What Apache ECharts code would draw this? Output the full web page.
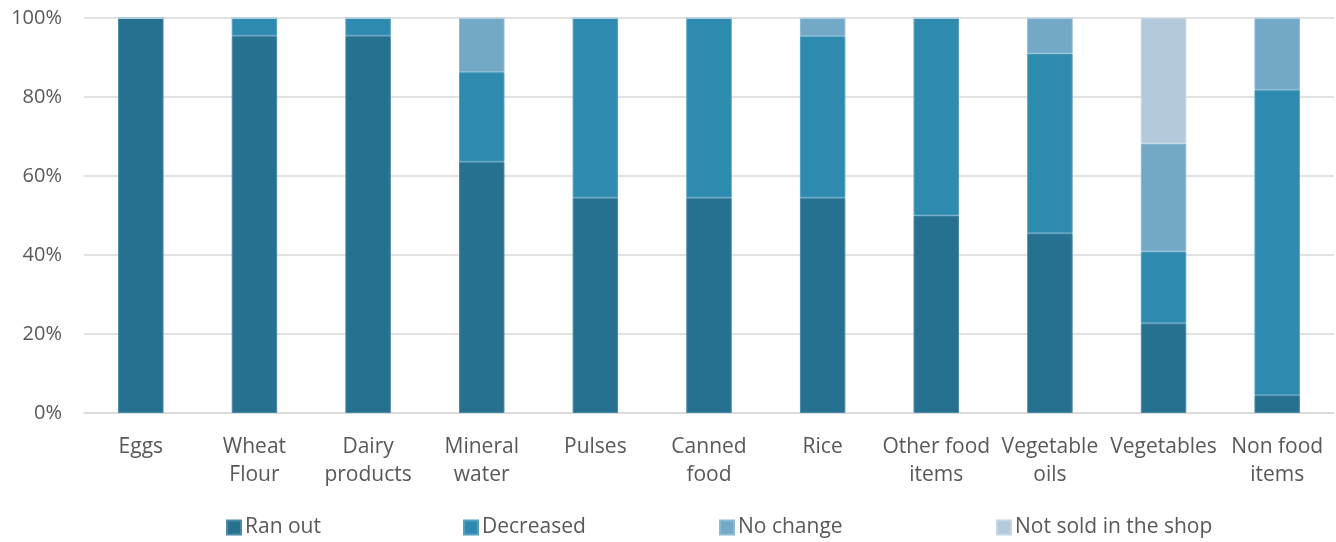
<!DOCTYPE html>
<html>
<head>
<meta charset="utf-8">
<script src="https://cdn.jsdelivr.net/npm/echarts@6/dist/echarts.min.js"></script>
<style>html,body{margin:0;padding:0;background:#fff}#c{width:1336px;height:542px}</style>
</head>
<body>
<div id="c"></div>
<script>
const categories = ['Eggs','Wheat\nFlour','Dairy\nproducts','Mineral\nwater','Pulses','Canned\nfood','Rice','Other food\nitems','Vegetable\noils','Vegetables','Non food\nitems'];
const seriesNames = ['Ran out', 'Decreased', 'No change', 'Not sold in the shop'];
const ranOut    = [100, 95.5, 95.5, 63.6, 54.5, 54.5, 54.5, 50, 45.5, 22.7, 4.5];
const decreased = [0, 4.5, 4.5, 22.7, 45.5, 45.5, 40.9, 50, 45.5, 18.2, 77.3];
const noChange  = [0, 0, 0, 13.7, 0, 0, 4.6, 0, 9.0, 27.3, 18.2];
const notSold   = [0, 0, 0, 0, 0, 0, 0, 0, 0, 31.8, 0];
const yTicks = [0, 20, 40, 60, 80, 100];

const font = '"Open Sans", "Noto Sans", sans-serif';
const legendLefts = [226, 463, 719, 996];
const mk = (name, data, color, border) => ({
  name, type: 'bar', stack: 'total', data, barWidth: '40%',
  itemStyle: { color, borderColor: border, borderWidth: 1 },
  emphasis: { disabled: true }
});
const chart = echarts.init(document.getElementById('c'), null, { renderer: 'canvas' });
chart.setOption({
  animation: false,
  textStyle: { fontFamily: font },
  grid: { left: 84, right: 2, top: 18, bottom: 129, containLabel: false },
  legend: seriesNames.map((n, i) => ({
    left: legendLefts[i], top: 517, padding: 0, itemWidth: 14, itemHeight: 14,
    icon: 'rect',
    textStyle: { fontFamily: font, fontSize: 21, color: '#595959', padding: [0, 0, 0, -1] },
    data: [n]
  })),
  xAxis: {
    type: 'category', data: categories,
    axisLine: { show: true, lineStyle: { color: '#d9d9d9', width: 1.5 } },
    axisTick: { show: false },
    axisLabel: { fontFamily: font, fontSize: 21, color: '#595959', lineHeight: 28, margin: 20, interval: 0 }
  },
  yAxis: {
    type: 'value', min: yTicks[0], max: yTicks[yTicks.length - 1], interval: 20,
    axisLine: { show: false }, axisTick: { show: false },
    splitLine: { lineStyle: { color: '#d9d9d9', width: 1.5 } },
    axisLabel: { fontFamily: font, fontSize: 20, color: '#595959', margin: 22, formatter: v => v + '%' }
  },
  series: [
    mk(seriesNames[0], ranOut, '#277190', '#4a8aa6'),
    mk(seriesNames[1], decreased, '#2f8aaf', '#55a0c0'),
    mk(seriesNames[2], noChange, '#73a9c7', '#8dbad3'),
    mk(seriesNames[3], notSold, '#b3c9dc', '#c4d5e4')
  ]
});
</script>
</body>
</html>
